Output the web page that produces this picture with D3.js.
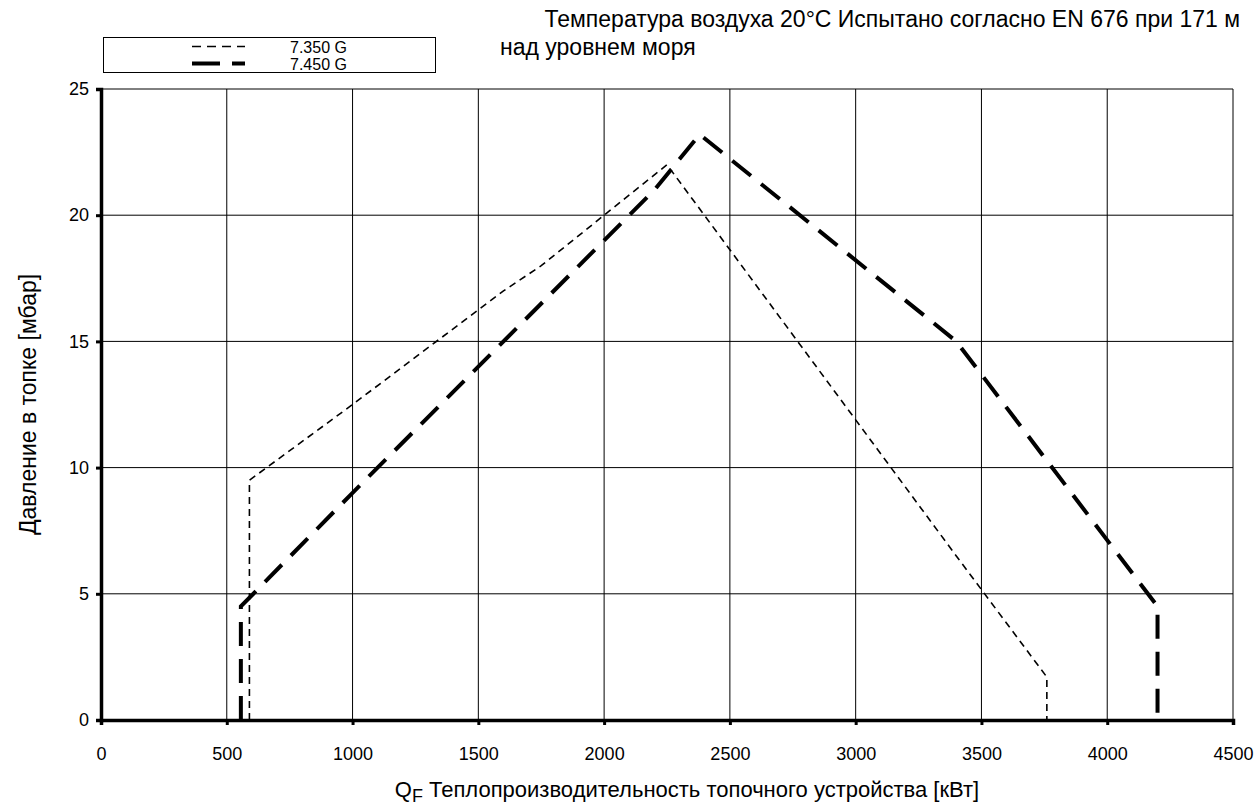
<!DOCTYPE html>
<html>
<head>
<meta charset="utf-8">
<script src="https://cdn.jsdelivr.net/npm/d3@7"></script>
<style>
  body { margin: 0; background: #fff; }
  text { font-family: "Liberation Sans", Arial, sans-serif; fill: #000; }
</style>
</head>
<body>
<div id="vis"></div>
<script>
// data
let xTicks = [0, 500, 1000, 1500, 2000, 2500, 3000, 3500, 4000, 4500];
let yTicks = [0, 5, 10, 15, 20, 25];

let g7350 = [
  [590, 0], [590, 9.5], [1000, 12.5], [1600, 17], [1750, 18], [2250, 22],
  [3400, 6.5], [3760, 1.7], [3760, 0]
];
let g7450 = [
  [556, 0], [556, 4.5], [1000, 9], [2200, 21], [2380, 23.2],
  [3400, 15], [4200, 4.5], [4200, 0]
];
let seriesNames = ['7.350 G', '7.450 G'];

let margin = { top: 89, left: 101, right: 22, bottom: 85 },
  width = 1255 - margin.left - margin.right,
  height = 805 - margin.top - margin.bottom;

let svg = d3.select('#vis')
  .append('svg')
  .attr('width', 1255)
  .attr('height', 805);

let x = d3.scaleLinear().domain([0, 4500]).range([0, width]);
let y = d3.scaleLinear().domain([0, 25]).range([height, 0]);

let plot = svg.append('g')
  .attr('transform', `translate(${margin.left},${margin.top})`);

// grid
plot.selectAll('.vgrid').data(xTicks.slice(1))
  .enter().append('line')
  .attr('x1', d => x(d)).attr('x2', d => x(d))
  .attr('y1', 0).attr('y2', height)
  .attr('stroke', '#000').attr('stroke-width', 1);

plot.selectAll('.hgrid').data(yTicks.slice(1))
  .enter().append('line')
  .attr('x1', 0).attr('x2', width)
  .attr('y1', d => y(d)).attr('y2', d => y(d))
  .attr('stroke', '#000').attr('stroke-width', 1);

// axes
let xAxis = plot.append('g')
  .attr('transform', `translate(0,${height})`)
  .call(d3.axisBottom(x).tickValues(xTicks).tickFormat(d3.format('d')).tickSize(5).tickPadding(22));
let yAxis = plot.append('g')
  .call(d3.axisLeft(y).tickValues(yTicks).tickFormat(d3.format('d')).tickSize(5).tickPadding(7));

[xAxis, yAxis].forEach(a => {
  a.select('.domain').attr('stroke', '#000').attr('stroke-width', 3.5);
  a.selectAll('.tick line').attr('stroke', '#000').attr('stroke-width', 3);
  a.selectAll('.tick text').style('font-size', '18px')
    .style('font-family', '"Liberation Sans", Arial, sans-serif');
});

// lines
let line = d3.line().x(d => x(d[0])).y(d => y(d[1]));

plot.append('path')
  .datum(g7350)
  .attr('d', line)
  .attr('fill', 'none')
  .attr('stroke', '#000')
  .attr('stroke-width', 1.6)
  .attr('stroke-dasharray', '7,5');

plot.append('path')
  .datum(g7450)
  .attr('d', line)
  .attr('fill', 'none')
  .attr('stroke', '#000')
  .attr('stroke-width', 4)
  .attr('stroke-dasharray', '24,13');

// legend
let leg = svg.append('g');
leg.append('rect')
  .attr('x', 103.5).attr('y', 37.5).attr('width', 332).attr('height', 35)
  .attr('fill', '#fff').attr('stroke', '#000').attr('stroke-width', 1);
leg.append('line')
  .attr('x1', 192).attr('x2', 245).attr('y1', 46.5).attr('y2', 46.5)
  .attr('stroke', '#000').attr('stroke-width', 1.6).attr('stroke-dasharray', '9,6');
leg.append('line')
  .attr('x1', 192).attr('x2', 245).attr('y1', 63.5).attr('y2', 63.5)
  .attr('stroke', '#000').attr('stroke-width', 4).attr('stroke-dasharray', '28,12');
leg.selectAll('.lt').data(seriesNames)
  .enter().append('text')
  .attr('x', 290).attr('y', (d, i) => 53 + i * 17)
  .style('font-size', '16px')
  .text(d => d);

// title
svg.append('text')
  .attr('x', 1240).attr('y', 27)
  .attr('text-anchor', 'end')
  .style('font-size', '23px')
  .text('Температура воздуха 20°C Испытано согласно EN 676 при 171 м');
svg.append('text')
  .attr('x', 500).attr('y', 55)
  .style('font-size', '23px')
  .text('над уровнем моря');

// axis titles
svg.append('text')
  .attr('transform', `translate(36,${margin.top + height / 2}) rotate(-90)`)
  .attr('text-anchor', 'middle')
  .style('font-size', '23px')
  .text('Давление в топке [мбар]');

let xt = svg.append('text')
  .attr('x', margin.left + width / 2 + 20).attr('y', 797)
  .attr('text-anchor', 'middle')
  .style('font-size', '22px');
xt.append('tspan').text('Q');
xt.append('tspan').attr('dy', 5).style('font-size', '18px').text('F');
xt.append('tspan').attr('dy', -5).text(' Теплопроизводительность топочного устройства [кВт]');
</script>
</body>
</html>
